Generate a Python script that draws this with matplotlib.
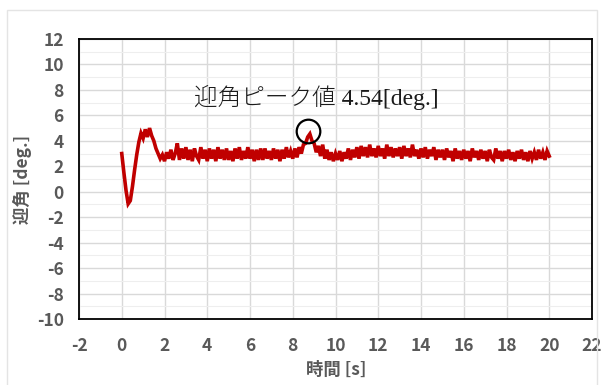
import numpy as np
import matplotlib.pyplot as plt
import matplotlib.patches as patches
from matplotlib.transforms import offset_copy

plt.rcParams['axes.unicode_minus'] = False

sample_step = 0.1
angle = [
    3.0, 1.5, 0.1, -0.95, -0.7, 0.4, 1.7, 2.9, 3.9, 4.6,
    4.2, 4.9, 4.3, 5.0, 4.4, 4.0, 3.4, 3.0, 2.6, 2.9,
    2.4, 3.1, 2.6, 3.3, 2.5, 3.0, 3.8, 2.5, 3.4, 2.6,
    3.5, 2.5, 3.3, 2.4, 3.4, 2.8, 2.5, 3.5, 2.6, 3.3,
    2.4, 3.4, 2.6, 3.3, 2.4, 3.5, 2.6, 3.3, 2.5, 3.4,
    2.5, 3.2, 2.4, 3.4, 2.6, 3.5, 2.5, 3.2, 2.6, 3.5,
    2.6, 3.3, 2.4, 3.3, 2.5, 3.4, 2.5, 3.4, 2.6, 3.2,
    2.5, 3.4, 2.6, 3.3, 2.4, 3.3, 2.6, 3.5, 2.7, 3.2,
    2.6, 3.4, 2.7, 3.5, 3.0, 3.7, 3.8, 4.3, 4.54, 4.0,
    3.8, 3.1, 3.6, 2.8, 3.7, 2.6, 3.3, 2.5, 3.1, 2.4,
    3.0, 2.5, 3.2, 2.4, 3.1, 2.6, 3.4, 2.5, 3.3, 2.7,
    3.5, 2.6, 3.6, 2.8, 3.5, 2.7, 3.7, 2.8, 3.4, 2.7,
    3.6, 2.8, 3.4, 2.6, 3.7, 2.8, 3.5, 2.7, 3.4, 2.8,
    3.5, 2.6, 3.6, 2.8, 3.4, 2.7, 3.7, 2.8, 3.3, 2.6,
    3.4, 2.7, 3.5, 2.6, 3.3, 2.8, 3.5, 2.5, 3.3, 2.7,
    3.3, 2.5, 3.4, 2.7, 3.2, 2.4, 3.4, 2.6, 3.2, 2.5,
    3.3, 2.6, 3.2, 2.4, 3.4, 2.7, 3.2, 2.5, 3.3, 2.6,
    3.2, 2.4, 3.3, 2.7, 2.5, 3.4, 2.6, 3.2, 2.4, 3.2,
    2.6, 3.3, 2.5, 3.1, 2.4, 3.2, 2.6, 3.3, 2.5, 3.1,
    2.4, 3.2, 2.6, 3.1, 2.5, 3.3, 2.6, 3.1, 2.5, 3.2,
    2.8,
]
time = np.arange(len(angle)) * sample_step

peak_time = 8.75
peak_value = 4.54
peak_label = '迎角ピーク値 4.54[deg.]'

x_ticks = list(range(-2, 23, 2))
y_ticks = list(range(-10, 13, 2))

label_font = ['Liberation Sans Narrow', 'Noto Sans CJK JP', 'DejaVu Sans']
note_font = ['Liberation Serif', 'Noto Sans CJK JP', 'DejaVu Sans']
gray = '#595959'

fig = plt.figure(figsize=(6.01, 3.85), dpi=100)
ax = fig.add_axes([79 / 601, 1 - 319 / 385, 513 / 601, 280 / 385])

# faint chart frame (Excel chart area border)
fig.patches.append(patches.Rectangle((7 / 601, -0.02), 590 / 601, 1 - 10 / 385 + 0.02,
                                     transform=fig.transFigure, fill=False,
                                     edgecolor='#e4e4e4', linewidth=1))

ax.plot(time, angle, color='#C00000', linewidth=2.6, solid_joinstyle='miter', zorder=3)

# circle round the peak
circ_tr = offset_copy(ax.transData, fig=fig, x=-1, y=3, units='dots')
ax.plot([peak_time], [peak_value], marker='o', markersize=17, markerfacecolor='none',
        markeredgecolor='black', markeredgewidth=1.6, transform=circ_tr, zorder=4)
ax.text(3.4, 7.4, peak_label, family=note_font, fontsize=17, fontweight='light',
        va='center', ha='left', color='#1a1a1a', zorder=5)

ax.set_xlim(-2, 22)
ax.set_ylim(-10, 12)
ax.set_xticks(x_ticks)
ax.set_yticks(y_ticks)
ax.set_yticks(np.arange(-10, 12.1, 1), minor=True)
ax.grid(which='major', color='#d9d9d9', linewidth=1.0, zorder=0)
ax.grid(which='minor', axis='y', color='#eeeeee', linewidth=0.8, zorder=0)
ax.set_axisbelow(True)
ax.tick_params(which='both', length=0)
ax.tick_params(axis='y', pad=11)
ax.tick_params(axis='x', pad=13)
for lab in ax.get_xticklabels() + ax.get_yticklabels():
    lab.set_family(label_font)
    lab.set_fontsize(12.5)
    lab.set_fontweight('bold')
    lab.set_color(gray)

for sp in ax.spines.values():
    sp.set_color('black')
    sp.set_linewidth(1.3)

fig.text(22 / 601, 1 - 179 / 385, '迎角 [deg.]', rotation=90, ha='center', va='center',
         family=label_font, fontsize=12.5, fontweight='bold', color=gray)
fig.text(336 / 601, 1 - 370 / 385, '時間 [s]', ha='center', va='center',
         family=label_font, fontsize=12.5, fontweight='bold', color=gray)

fig.savefig('out.png', dpi=100)
